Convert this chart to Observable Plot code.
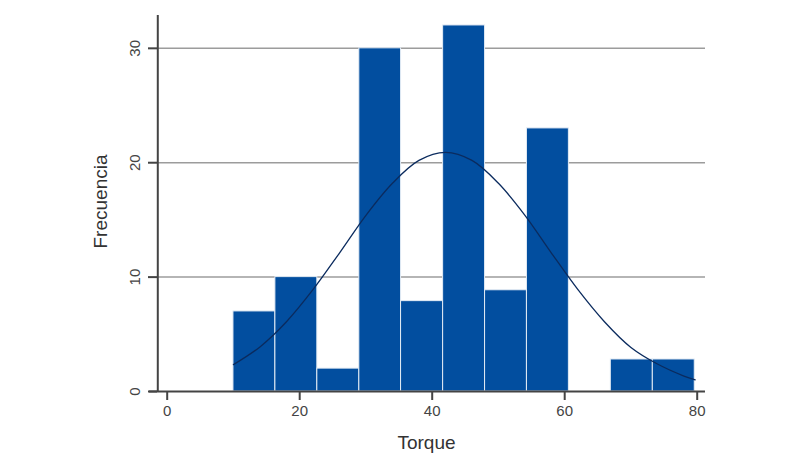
<!DOCTYPE html>
<html>
<head>
<meta charset="utf-8">
<script src="https://cdn.jsdelivr.net/npm/d3@7"></script>
<script src="https://cdn.jsdelivr.net/npm/@observablehq/plot@0.6"></script>
<style>
  body { margin: 0; background: #fff; }
  #chart-container svg { font-family: "Liberation Sans", Arial, sans-serif; }
</style>
</head>
<body>
<div id="chart-container"></div>
<script>
// histogram bins (Torque) and counts
const binEdges = [10, 16.33, 22.66, 29.0, 35.3, 41.65, 47.98, 54.3, 60.63, 66.96, 73.3, 79.63];
const counts = [7, 10, 2, 30, 7.9, 32, 8.85, 23, 0, 2.8, 2.8];

// fitted normal curve
const curveX = [10, 14, 18, 22, 26, 30, 34, 38, 42, 46, 50, 54, 58, 62, 66, 70, 74, 78, 79.7];
const curveY = [2.35, 3.9, 6.1, 8.9, 12.1, 15.4, 18.2, 20.2, 20.9, 20.2, 18.2, 15.4, 12.1, 8.9, 6.1, 3.85, 2.4, 1.35, 1.02];

const xTicks = [0, 20, 40, 60, 80];
const yTicks = [0, 10, 20, 30];
const yGrid = [10, 20, 30];

const bins = counts.map((c, i) => ({x1: binEdges[i], x2: binEdges[i + 1], count: c}));
const curve = curveX.map((x, i) => ({x, y: curveY[i]}));

const axisColor = "#444";

const plot = Plot.plot({
  width: 800,
  height: 471,
  marginLeft: 157,
  marginRight: 95,
  marginTop: 15,
  marginBottom: 80,
  x: {domain: [0, 80], range: [166.7, 696.7]},
  y: {domain: [0, 32.87]},
  marks: [
    Plot.gridY(yGrid, {stroke: "#9c9c9c", strokeOpacity: 1, strokeWidth: 1.5}),
    Plot.rectY(bins, {x1: "x1", x2: "x2", y: "count", fill: "#024e9f", stroke: "#e4ecf5", strokeWidth: 1}),
    Plot.line(curve, {x: "x", y: "y", curve: "catmull-rom", stroke: "#0b2b5e", strokeWidth: 1.3}),
    Plot.ruleY([0], {x1: -2.67, x2: 81.25, stroke: axisColor, strokeWidth: 2}),
    Plot.ruleX([-1.42], {y1: 0, y2: 32.87, stroke: axisColor, strokeWidth: 2}),
    Plot.axisX({ticks: xTicks, tickSize: 9, tickPadding: 5, strokeWidth: 2, stroke: axisColor, fill: axisColor, fontSize: 15, label: null}),
    Plot.axisY({ticks: yTicks, tickSize: 9, strokeWidth: 2, stroke: axisColor, text: null, label: null}),
    Plot.text(yTicks, {y: d => d, text: d => String(d), frameAnchor: "left", textAnchor: "middle", lineAnchor: "middle", dx: -22, rotate: -90, fontSize: 15, fill: axisColor}),
    Plot.text(["Frecuencia"], {frameAnchor: "left", textAnchor: "middle", lineAnchor: "middle", dx: -57, dy: -2, rotate: -90, fontSize: 19, fill: "#333"}),
    Plot.text(["Torque"], {frameAnchor: "bottom", textAnchor: "middle", lineAnchor: "middle", dx: -5, dy: 51, fontSize: 19, fill: "#333"})
  ]
});

document.getElementById("chart-container").appendChild(plot);
</script>
</body>
</html>
